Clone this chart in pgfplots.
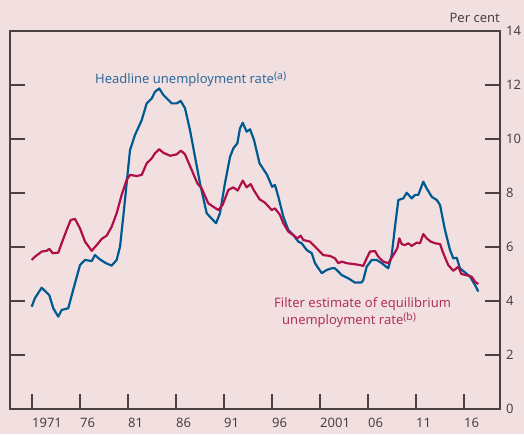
\documentclass[border=0pt]{standalone}
\usepackage{pgfplots}
\pgfplotsset{compat=1.18}
\usepackage{fontspec}
\setmainfont{Noto Sans}
\definecolor{bgc}{HTML}{F2E0E1}
\definecolor{blueL}{HTML}{005A92}
\definecolor{redL}{HTML}{AE0F48}
\definecolor{redT}{HTML}{B0325E}
\definecolor{blueT}{HTML}{2E6A9A}
\definecolor{axc}{HTML}{4A4242}
\newcommand{\sups}[1]{\raisebox{0.36em}{\fontsize{10.5}{12}\selectfont #1}}
\begin{document}
\begin{tikzpicture}[x=1pt,y=1pt]
\fill[bgc] (0,0) rectangle (524,434);
\begin{axis}[
  at={(10pt,25pt)}, anchor=south west,
  scale only axis, width=490pt, height=378pt,
  xmin=1968.71, xmax=2019.75, ymin=0, ymax=14,
  clip=false,
  axis line style={color=axc, line width=1.1pt},
  every tick/.style={color=axc, line width=1.1pt},
  major tick length=15pt,
  tick align=inside,
  xtick={1971,1976,1981,1986,1991,1996,2001,2006,2011,2016},
  xticklabels={1971,76,81,86,91,96,2001,06,11,16},
  xtick pos=bottom,
  ytick={0,2,4,6,8,10,12,14},
  ytick pos=both,
  yticklabel pos=right,
  /pgf/number format/assume math mode=true,
  ticklabel style={font=\fontsize{13}{15}\selectfont, text=axc},
  xticklabel style={anchor=north west, inner sep=0pt, yshift=-9pt},
  yticklabel style={anchor=west, inner sep=0pt, xshift=6pt},
]
\addplot[blueL, line width=2.2pt, line join=round] coordinates {
(1970.97,3.79)(1971.31,4.11)(1972.01,4.49)(1972.80,4.22)(1973.22,3.73)(1973.74,3.42)(1974.09,3.67)(1974.78,3.73)(1975.38,4.53)(1976.00,5.33)(1976.52,5.52)(1977.22,5.48)(1977.56,5.70)(1978.08,5.54)(1978.71,5.40)(1979.30,5.31)(1979.82,5.52)(1980.17,6.01)(1980.58,7.37)(1981.21,9.59)(1981.73,10.15)(1982.43,10.70)(1982.95,11.32)(1983.47,11.50)(1983.81,11.75)(1984.26,11.87)(1984.68,11.63)(1985.55,11.32)(1986.07,11.32)(1986.49,11.41)(1986.94,11.14)(1987.46,10.33)(1987.98,9.34)(1988.50,8.36)(1989.20,7.25)(1989.54,7.12)(1990.17,6.88)(1990.58,7.25)(1991.10,8.36)(1991.63,9.34)(1991.97,9.65)(1992.39,9.84)(1992.67,10.40)(1992.95,10.60)(1993.36,10.27)(1993.71,10.36)(1994.13,9.96)(1994.70,9.10)(1995.49,8.67)(1996.01,8.23)(1996.31,8.30)(1996.66,7.86)(1997.18,7.12)(1997.70,6.63)(1998.22,6.44)(1998.74,6.20)(1999.09,6.14)(1999.61,5.89)(2000.14,5.77)(2000.48,5.40)(2001.18,5.03)(2001.70,5.15)(2002.22,5.21)(2002.56,5.21)(2002.91,5.09)(2003.26,4.96)(2003.95,4.84)(2004.65,4.68)(2005.34,4.69)(2005.51,4.78)(2005.86,5.27)(2006.39,5.52)(2006.91,5.52)(2007.43,5.40)(2008.11,5.21)(2008.47,5.70)(2008.81,6.75)(2009.16,7.74)(2009.68,7.80)(2010.03,8.01)(2010.55,7.80)(2010.90,7.93)(2011.24,7.93)(2011.76,8.42)(2012.11,8.17)(2012.64,7.86)(2013.16,7.74)(2013.50,7.56)(2014.02,6.63)(2014.54,5.89)(2014.89,5.58)(2015.24,5.60)(2015.58,5.21)(2016.00,5.09)(2016.63,4.90)(2017.15,4.59)(2017.49,4.35)
};
\addplot[redL, line width=2.2pt, line join=round] coordinates {
(1970.97,5.52)(1971.31,5.64)(1972.01,5.83)(1972.53,5.86)(1972.80,5.93)(1973.16,5.77)(1973.74,5.79)(1974.09,6.14)(1974.61,6.63)(1975.03,7.00)(1975.48,7.04)(1976.00,6.69)(1976.52,6.20)(1977.22,5.86)(1977.74,6.07)(1978.26,6.30)(1978.78,6.42)(1979.30,6.75)(1979.82,7.25)(1980.34,7.93)(1980.86,8.48)(1981.21,8.67)(1981.91,8.63)(1982.43,8.67)(1982.95,9.10)(1983.47,9.28)(1983.81,9.47)(1984.26,9.62)(1984.68,9.49)(1985.38,9.38)(1986.07,9.43)(1986.52,9.57)(1986.94,9.43)(1987.64,8.85)(1988.22,8.36)(1988.68,8.17)(1989.36,7.62)(1989.89,7.49)(1990.41,7.37)(1990.86,7.56)(1991.45,8.11)(1991.97,8.21)(1992.43,8.09)(1992.95,8.46)(1993.36,8.21)(1993.78,8.33)(1994.13,8.09)(1994.70,7.77)(1995.27,7.64)(1995.97,7.37)(1996.31,7.43)(1996.83,7.19)(1997.18,6.88)(1997.70,6.57)(1998.22,6.44)(1998.64,6.32)(1998.99,6.42)(1999.26,6.26)(1999.96,6.20)(2000.66,5.95)(2001.34,5.70)(2002.04,5.67)(2002.56,5.58)(2002.91,5.40)(2003.26,5.46)(2003.78,5.40)(2004.47,5.37)(2005.17,5.33)(2005.51,5.30)(2005.86,5.58)(2006.21,5.83)(2006.73,5.85)(2007.07,5.64)(2007.59,5.46)(2008.11,5.40)(2008.64,5.70)(2009.05,5.95)(2009.26,6.32)(2009.51,6.11)(2009.85,6.07)(2010.20,6.14)(2010.55,6.04)(2011.07,6.16)(2011.42,6.14)(2011.76,6.48)(2012.11,6.32)(2012.53,6.20)(2012.98,6.14)(2013.50,6.11)(2013.84,5.77)(2014.36,5.33)(2014.89,5.12)(2015.41,5.27)(2015.72,5.00)(2016.24,4.96)(2016.80,4.90)(2017.15,4.71)(2017.49,4.63)
};
\node[anchor=base west, inner sep=0pt, text=blueT, font=\fontsize{13}{15}\selectfont] at (axis cs:1977.56,12.04) {Headline unemployment rate\sups{(a)}};
\node[anchor=base west, inner sep=0pt, text=redT, font=\fontsize{13}{15}\selectfont] at (axis cs:1996.21,3.76) {Filter estimate of equilibrium};
\node[anchor=base west, inner sep=0pt, text=redT, font=\fontsize{13}{15}\selectfont] at (axis cs:1997.04,3.12) {unemployment rate\sups{(b)}};
\node[anchor=base east, inner sep=0pt, text=axc, font=\fontsize{13}{15}\selectfont] at (axis cs:2019.75,14.3) {Per cent};
\end{axis}
\pgfresetboundingbox
\useasboundingbox (0,0) rectangle (524,434);
\end{tikzpicture}
\end{document}
